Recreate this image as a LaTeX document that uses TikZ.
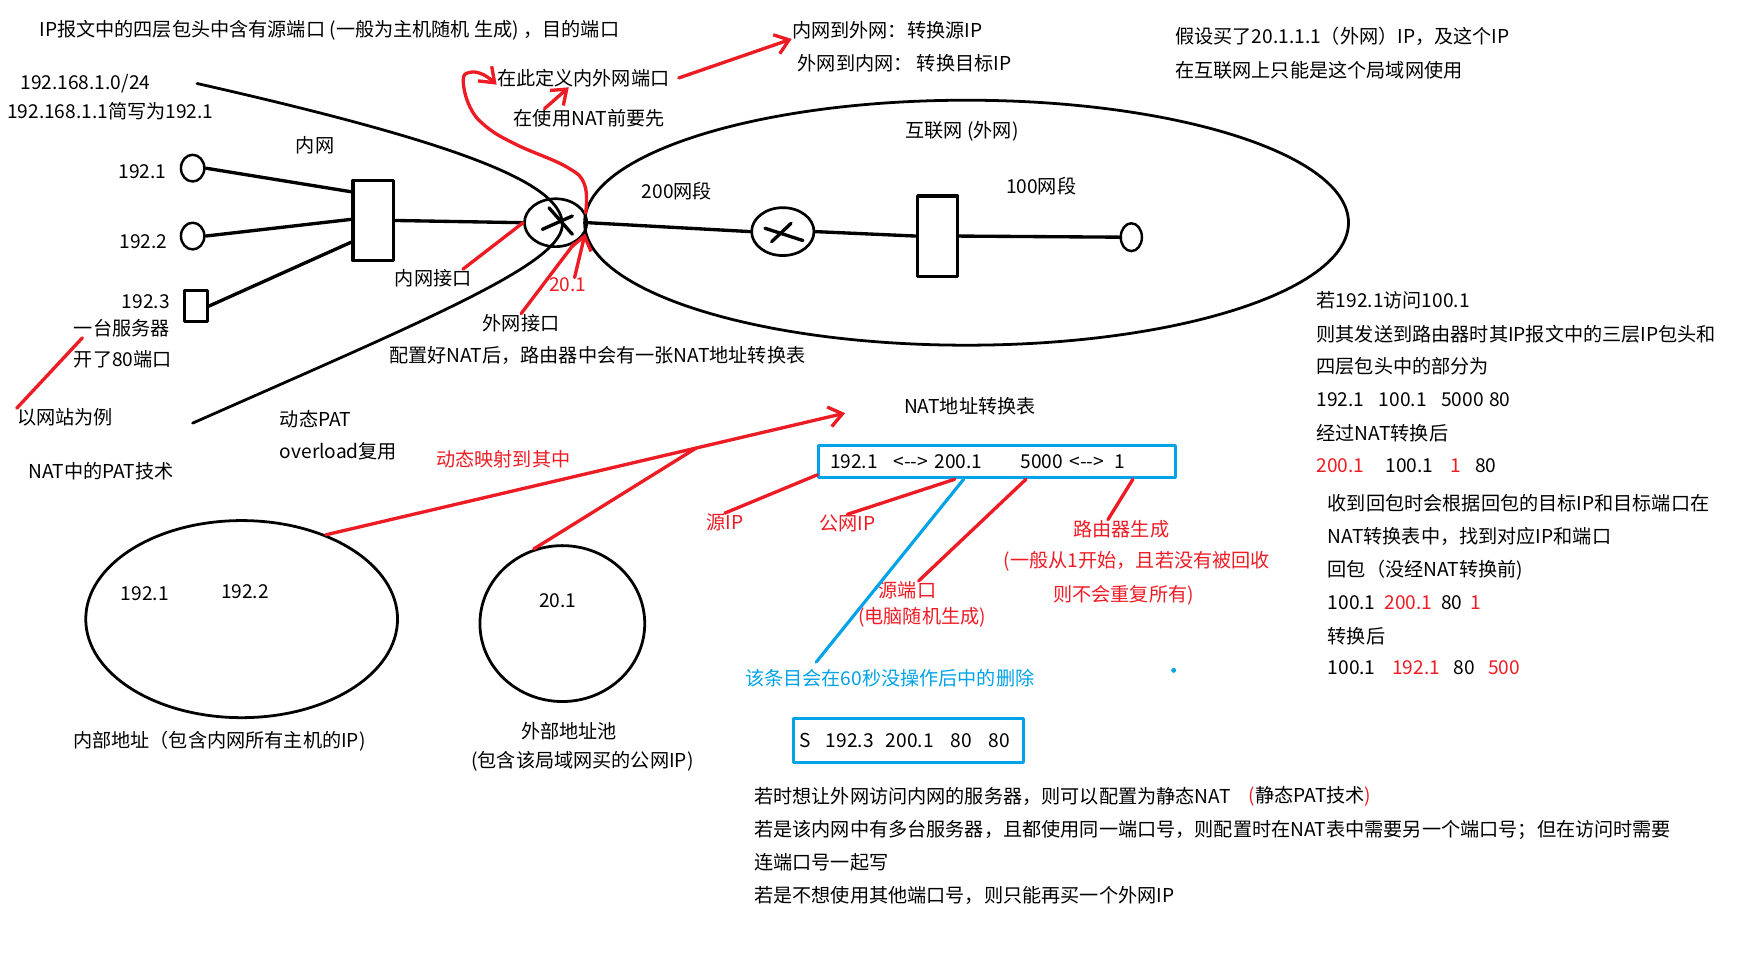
\documentclass[tikz,border=0pt]{standalone}
\usepackage{fontspec}
\setmainfont{Noto Sans CJK SC}
\usetikzlibrary{arrows.meta,calc,positioning,shapes.geometric}
\definecolor{nred}{RGB}{237,28,36}
\definecolor{nblue}{RGB}{0,162,232}
\newcommand{\dbl}{-\kern0pt-}
\tikzset{
  every picture/.append style={line cap=round,line join=round},
  nat note/.style={font=\fontsize{8.6pt}{10pt}\selectfont,inner sep=0pt},
  nat red/.style={nat note,text=nred},
  nat blue/.style={nat note,text=nblue},
  nat host/.style={ellipse,draw,line width=1.1pt,minimum width=10.5pt,minimum height=12pt,inner sep=0pt},
  nat server/.style={rectangle,draw,line width=1.4pt,minimum width=10pt,minimum height=14pt,inner sep=0pt},
  nat switch/.style={rectangle,draw,line width=1.4pt,minimum width=18pt,minimum height=36pt,inner sep=0pt},
  nat router/.style={ellipse,draw,line width=1.2pt,minimum width=28pt,minimum height=21.5pt,inner sep=0pt},
  nat region/.style={ellipse,draw,line width=1.25pt,inner sep=0pt},
  nat table/.style={nat note,draw=nblue,line width=1.4pt,inner ysep=0pt,align=left},
  nat wire/.style={line width=1.5pt},
  nat outline/.style={line width=1.25pt},
  nat red line/.style={nred,line width=1.5pt},
  nat red arrow/.style={nat red line,-{Straight Barb[length=6pt,width=9pt]}},
  nat blue line/.style={nblue,line width=1.4pt}
}

\begin{document}
\begin{tikzpicture}[x=0.5pt,y=-0.5pt]
\useasboundingbox (0,0) rectangle (1568,866);

% notes on top
\node[nat note,anchor=west] (hdrnote) at (35,27) {IP报文中的四层包头中含有源端口 (一般为主机随机 生成) ，目的端口};
\node[nat note,anchor=west] (lansub) at (18,75) {192.168.1.0/24};
\node[nat note,anchor=west] (lanabbr) at (6,100) {192.168.1.1简写为192.1};
\node[nat note,anchor=west] (defn) at (446,70) {在此定义内外网端口};
\node[nat note,anchor=west] (pre) at (461,106) {在使用NAT前要先};
\node[nat note,anchor=west] (lan2wan) at (711,27) {内网到外网：转换源IP};
\node[nat note,anchor=west] (wan2lan) at (716,57) {外网到内网： 转换目标IP};
\node[nat note,anchor=west] (buyip) at (1055,33) {假设买了20.1.1.1（外网）IP，及这个IP};
\node[nat note,anchor=west] (buyip2) at (1055,63) {在互联网上只能是这个局域网使用};

% inner network
\draw[nat outline] (177,75) .. controls (420,130) and (502,165) .. (505,200)
  .. controls (508,235) and (395,282) .. (173,380);
\node[nat note] (lanname) at (283,130) {内网};
\node[nat host] (h1) at (173,151) {};
\node[nat host] (h2) at (173,212) {};
\node[nat server] (srv) at (176,275) {};
\node[nat switch] (sw1) at (335,198) {};
\node[nat router] (r1) at (499,200) {};
\draw[nat wire] ([shift={(-3pt,6.7pt)}]r1.center) -- ([shift={(7.5pt,-5.2pt)}]r1.center);
\draw[nat wire] ([shift={(-6pt,-3pt)}]r1.center) -- ([shift={(7.5pt,3pt)}]r1.center);
\node[nat note] (h1ip) at (128,154) {192.1};
\node[nat note] (h2ip) at (129,217) {192.2};
\node[nat note] (srvip) at (131,271) {192.3};
\node[nat note,anchor=west] (srvname) at (66,295) {一台服务器};
\node[nat note,anchor=west] (srvport) at (66,323) {开了80端口};
\node[nat note,anchor=west] (website) at (15,375) {以网站为例};
\node[nat note,anchor=west] (pattech) at (25,423) {NAT中的PAT技术};
\node[nat note,anchor=west] (dynpat) at (251,376) {动态PAT};
\node[nat note,anchor=west] (overload) at (251,405) {overload复用};
\draw[nat wire] (h1.east) -- (sw1.127);
\draw[nat wire] (h2.east) -- (sw1.177);
\draw[nat wire] (srv.east) -- (sw1.225);
\draw[nat wire] (sw1.east) -- (r1.west);

% internet
\node[nat region,minimum width=343pt,minimum height=110pt] (wan) at (868,200) {};
\node[nat router] (r2) at (703,208) {};
\draw[nat wire] ([shift={(-8pt,1.5pt)}]r2.center) -- ([shift={(9pt,-4pt)}]r2.center);
\draw[nat wire] ([shift={(-5pt,-4.5pt)}]r2.center) -- ([shift={(3.7pt,3.7pt)}]r2.center);
\node[nat switch] (sw2) at (842,212) {};
\node[nat host,minimum width=9.5pt,minimum height=12.5pt] (h3) at (1016,213) {};
\node[nat note] (wanname) at (864,118) {互联网 (外网)};
\node[nat note] (seg200) at (608,172) {200网段};
\node[nat note] (seg100) at (935,167) {100网段};
\draw[nat wire] (r1.east) -- (r2.west);
\draw[nat wire] (r2.east) -- (sw2.west);
\draw[nat wire] (sw2.east) -- (h3.west);

% router interfaces
\node[nat note] (lanif) at (389,250) {内网接口};
\node[nat red] (ip201) at (510,256) {20.1};
\node[nat note] (wanif) at (468,290) {外网接口};
\node[nat note,anchor=west] (cfgnote) at (349,319) {配置好NAT后，路由器中会有一张NAT地址转换表};
\draw[nat red line] ([xshift=-4pt]lanif.north east) -- (r1.west);
\draw[nat red line] (wanif.north) -- (r1.-48);
\draw[nat red arrow] ([xshift=3pt]ip201.north) -- (r1.-20);
\coordinate (loopstart) at (r1.18);
\coordinate (loopend) at ([yshift=-3pt]defn.west);
\draw[nat red arrow] plot[smooth,tension=0.7] coordinates {(loopstart) (525,166) (509,150) (464,130) (437,114) (422,96) (416,72) (422,65) (434,67) (loopend)};
\draw[nat red arrow] ([xshift=14pt]pre.north west) -- ([xshift=-6.5pt]defn.south);
\draw[nat red arrow] ([xshift=4pt]defn.east) -- ([yshift=-4pt]lan2wan.west);
\draw[nat red line] ([xshift=4pt]srvname.south west) -- (website.north west);

% address pools
\node[nat region,minimum width=140pt,minimum height=88.5pt] (lpool) at (217,556) {};
\node[nat region,minimum width=74pt,minimum height=70pt] (rpool) at (505,560) {};
\node[nat note] (lp1) at (130,533) {192.1};
\node[nat note] (lp2) at (220,531) {192.2};
\node[nat note] (rp1) at (501,539) {20.1};
\node[nat note] (lpoolname) at (197,666) {内部地址（包含内网所有主机的IP)};
\node[nat note] (rpoolname) at (511,657) {外部地址池};
\node[nat note] (rpoolnote) at (523,684) {(包含该局域网买的公网IP)};
\node[nat red] (mapnote) at (452,412) {动态映射到其中};
\coordinate (mapto) at (759,371);
\draw[nat red arrow] (lpool.45) -- (mapto);
\draw[nat red line] (rpool.111) -- ($(lpool.45)!0.713!(mapto)$);

% NAT table
\node[nat note] (tbltitle) at (871,365) {NAT地址转换表};
\node[nat table,anchor=west,minimum width=160pt,minimum height=14.5pt,inner xsep=5pt,text width=150pt] (tbl) at (734,414.5)
  {192.1\hspace{7pt}<\dbl>\hspace{3pt}200.1\hspace{17pt}5000\hspace{3pt}<\dbl>\hspace{4.5pt}1};
\node[nat red] (srcip) at (651,469) {源IP};
\node[nat red] (pubip) at (761,470) {公网IP};
\node[nat red] (rgen) at (1007,475) {路由器生成};
\node[nat red] (rgennote) at (1021,504) {(一般从1开始，且若没有被回收};
\node[nat red] (rgennote2) at (1009,535) {则不会重复所有)};
\node[nat red] (srcport) at (815,530) {源端口};
\node[nat red] (srcportnote) at (828,554) {(电脑随机生成)};
\node[nat blue] (del) at (799,609) {该条目会在60秒没操作后中的删除};
\fill[nblue] (1054,602) circle (1.1pt);
\draw[nat red line] (srcip.north) -- ([yshift=2pt]tbl.south west);
\draw[nat red line] (pubip.north) -- ([xshift=-19pt]tbl.south);
\draw[nat red line] ([xshift=5pt]srcport.north) -- ([xshift=13pt]tbl.south);
\draw[nat red line] ([xshift=-6pt]rgen.north) -- ([xshift=61pt]tbl.south);
\draw[nat blue line] ([shift={(-33pt,3pt)}]del.north) -- ([xshift=-15pt]tbl.south);

% static entry
\node[nat table,anchor=west,minimum width=103.5pt,minimum height=19.5pt,inner xsep=3pt,text width=97.5pt] (stat) at (711,665)
  {S\hspace{6.5pt}192.3\hspace{5.5pt}200.1\hspace{7.5pt}80\hspace{7.5pt}80};
\node[nat note,anchor=west] (st1) at (677,715) {若时想让外网访问内网的服务器，则可以配置为静态NAT};
\node[nat note,anchor=west] (st1b) at (1121,715) {{\color{nred}(}静态PAT技术{\color{nred})}};
\node[nat note,anchor=west] (st2) at (677,745) {若是该内网中有多台服务器，且都使用同一端口号，则配置时在NAT表中需要另一个端口号；但在访问时需要};
\node[nat note,anchor=west] (st3) at (677,774) {连端口号一起写};
\node[nat note,anchor=west] (st4) at (677,804) {若是不想使用其他端口号，则只能再买一个外网IP};

% walk-through on the right
\node[nat note,anchor=west] (w1) at (1182,270) {若192.1访问100.1};
\node[nat note,anchor=west] (w2) at (1182,300) {则其发送到路由器时其IP报文中的三层IP包头和};
\node[nat note,anchor=west] (w3) at (1182,329) {四层包头中的部分为};
\node[nat note,anchor=west] (w4) at (1182,359) {192.1\hspace{6.5pt}100.1\hspace{6.5pt}5000\hspace{2.5pt}80};
\node[nat note,anchor=west] (w5) at (1182,389) {经过NAT转换后};
\node[nat note,anchor=west] (w6) at (1182,418) {{\color{nred}200.1}\hspace{9.5pt}100.1\hspace{7.5pt}{\color{nred}1}\hspace{6.5pt}80};
\node[nat note,anchor=west] (w7) at (1192,452) {收到回包时会根据回包的目标IP和目标端口在};
\node[nat note,anchor=west] (w8) at (1192,482) {NAT转换表中，找到对应IP和端口};
\node[nat note,anchor=west] (w9) at (1192,512) {回包（没经NAT转换前)};
\node[nat note,anchor=west] (w10) at (1192,541) {100.1\hspace{4pt}{\color{nred}200.1}\hspace{4pt}80\hspace{3.5pt}{\color{nred}1}};
\node[nat note,anchor=west] (w11) at (1192,571) {转换后};
\node[nat note,anchor=west] (w12) at (1192,600) {100.1\hspace{7.5pt}{\color{nred}192.1}\hspace{6pt}80\hspace{6pt}{\color{nred}500}};
\end{tikzpicture}
\end{document}
